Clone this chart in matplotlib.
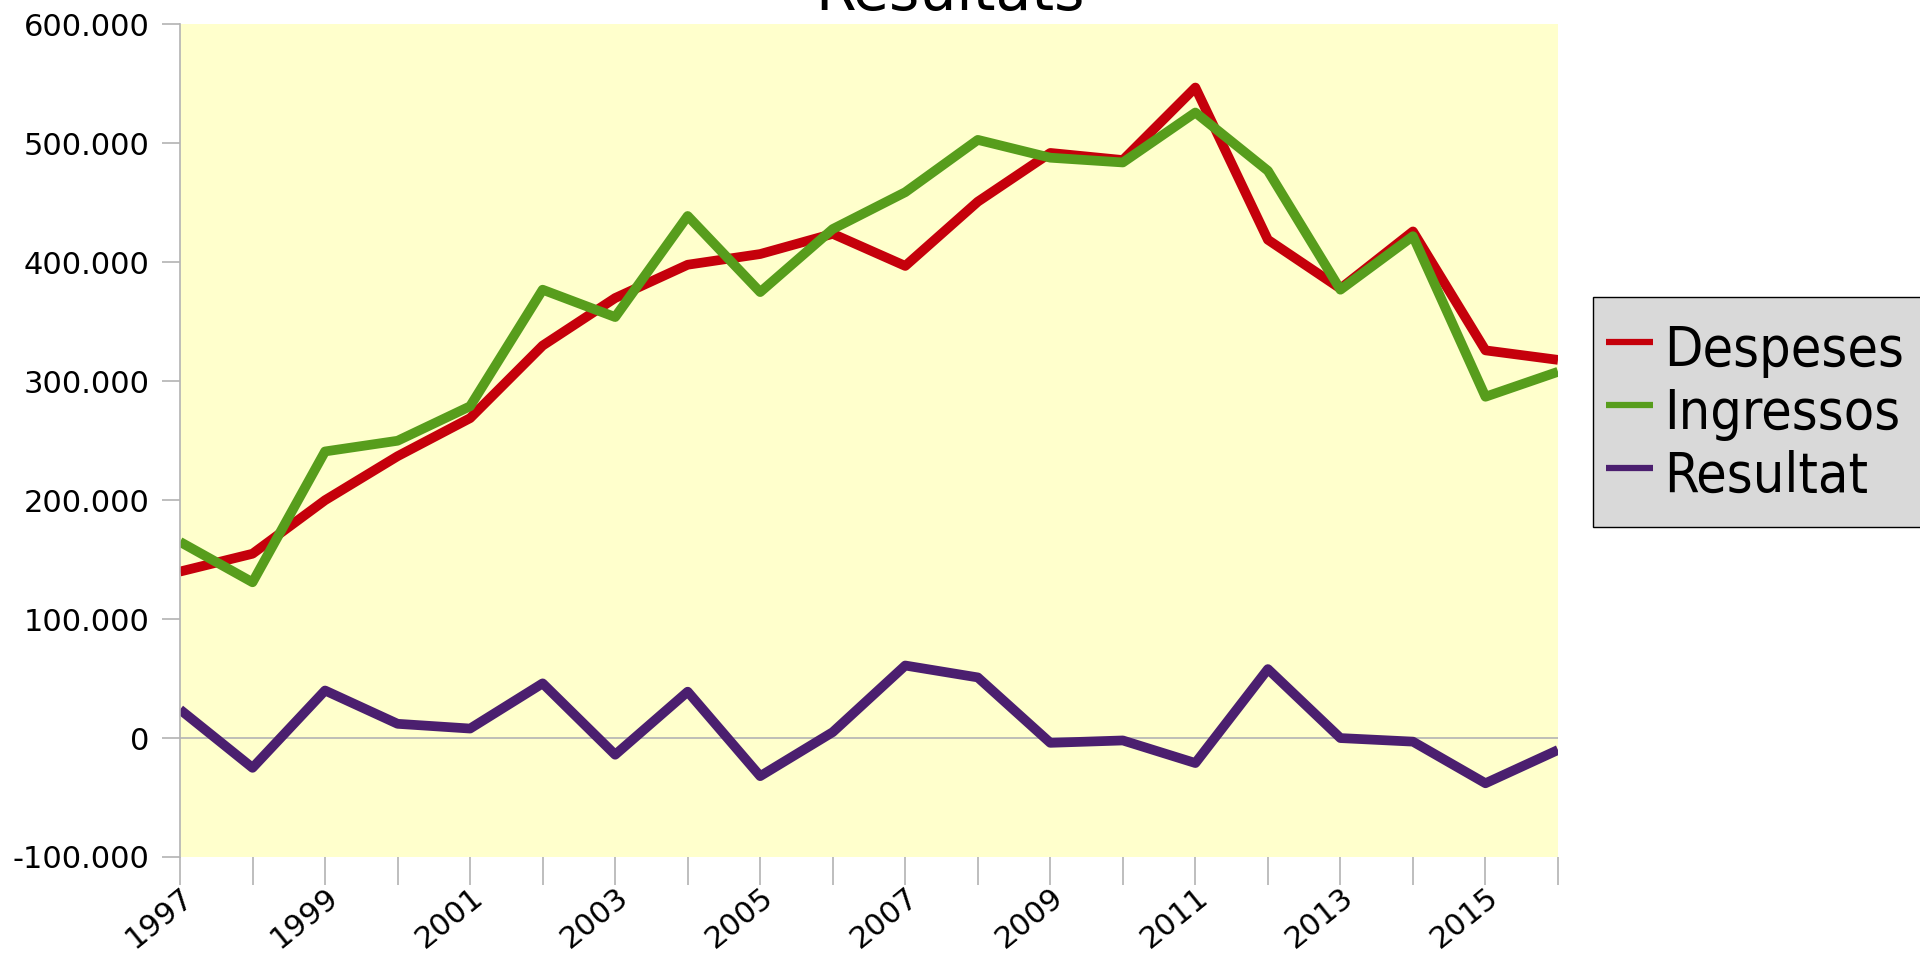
import matplotlib
matplotlib.use("Agg")
import matplotlib.pyplot as plt
from matplotlib.ticker import FuncFormatter, MultipleLocator
from matplotlib.patches import Rectangle
from matplotlib.lines import Line2D
from matplotlib import font_manager

years = list(range(1997, 2017))
despeses = [140000, 155000, 200000, 237000, 269000, 330000, 370000, 398000, 407000, 424000,
            397000, 451000, 492000, 486000, 547000, 419000, 378000, 426000, 326000, 318000]
ingressos = [165000, 131000, 241000, 250000, 279000, 377000, 354000, 439000, 375000, 428000,
             459000, 503000, 488000, 484000, 526000, 477000, 377000, 422000, 287000, 308000]
resultat = [24000, -25000, 40000, 12000, 8000, 46000, -14000, 39000, -32000, 5000,
            61000, 51000, -4000, -2000, -21000, 58000, 0, -3000, -38000, -10000]
series_names = ["Despeses", "Ingressos", "Resultat"]
colors = ["#c5000b", "#579d1c", "#4b1f6f"]
title = "Resultats"

W, H = 1920, 958
fig = plt.figure(figsize=(19.2, 9.58), dpi=100)
ax = fig.add_axes([180/W, 1-857/H, (1558-180)/W, (857-24.5)/H])
ax.set_facecolor("#ffffcc")

for vals, name, c in zip([despeses, ingressos, resultat], series_names, colors):
    ax.plot(years, vals, color=c, lw=7, label=name, solid_joinstyle="round", solid_capstyle="butt")

ax.axhline(0, color="#b3b3b3", lw=1.2, zorder=0.5)
ax.set_xlim(years[0], years[-1])
ax.set_ylim(-100000, 600000)
ax.yaxis.set_major_locator(MultipleLocator(100000))

def fmt(v, pos):
    if abs(v) < 1:
        return "0"
    s = f"{abs(int(round(v))):,}".replace(",", ".")
    return ("-" if v < 0 else "") + s
ax.yaxis.set_major_formatter(FuncFormatter(fmt))

ax.set_xticks(years)
ax.set_xticklabels([str(y) if (y - 1997) % 2 == 0 else "" for y in years],
                   rotation=39, ha="right", va="top", rotation_mode="anchor")

for s in ["top", "right", "bottom"]:
    ax.spines[s].set_visible(False)
ax.spines["left"].set_color("#b3b3b3")
ax.spines["left"].set_linewidth(1.2)

ax.tick_params(axis="y", length=13, width=1.2, color="#b3b3b3", labelsize=22, pad=9)
ax.tick_params(axis="x", length=20, width=1.2, color="#b3b3b3", labelsize=22, pad=-2)

fig.text(0.495, 1 - 10/H, title, ha="center", va="baseline", fontsize=42)

# legend (drawn manually in figure pixel coordinates)
has_cond = any(getattr(f, "stretch", "normal") in ("condensed", "semi-condensed")
               and f.name == "DejaVu Sans" for f in font_manager.fontManager.ttflist)
if has_cond:
    leg_fp = font_manager.FontProperties(family="DejaVu Sans", stretch="condensed", size=40)
else:
    leg_fp = font_manager.FontProperties(family="DejaVu Sans", size=36)

def fx(px):
    return px / W
def fy(py):
    return 1 - py / H

fig.add_artist(Rectangle((fx(1593), fy(527)), fx(1940) - fx(1593), fy(297) - fy(527),
                         transform=fig.transFigure, facecolor="#d9d9d9",
                         edgecolor="black", lw=1, zorder=5))
baselines = [366, 429, 492]
for name, c, b in zip(series_names, colors, baselines):
    fig.add_artist(Line2D([fx(1606), fx(1653)], [fy(b - 24), fy(b - 24)],
                          transform=fig.transFigure, color=c, lw=4.5,
                          solid_capstyle="butt", zorder=6))
    fig.text(fx(1664), fy(b), name, fontproperties=leg_fp, ha="left",
             va="baseline", zorder=6)

fig.savefig("out.png", dpi=100)
